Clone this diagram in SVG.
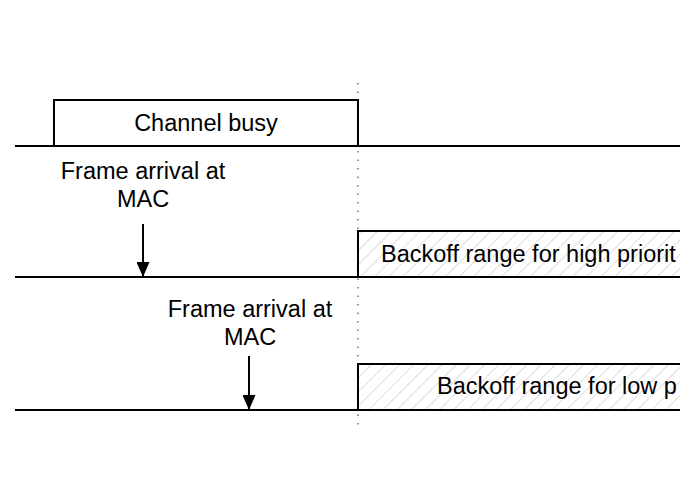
<svg xmlns="http://www.w3.org/2000/svg" width="680" height="500" viewBox="0 0 680 500">
<style>
.t{font-family:"Liberation Sans",Arial,sans-serif;font-size:23.5px;fill:#000}
.ln{stroke:#000;stroke-width:2;fill:none}
.box{stroke:#000;stroke-width:2;fill:#fff}
.hbox{stroke:#000;stroke-width:2;fill:url(#hatch)}
.arr{stroke:#000;stroke-width:2;fill:none;marker-end:url(#ah)}
</style>
<defs>
<pattern id="hatch" patternUnits="userSpaceOnUse" width="10" height="10" patternTransform="rotate(45)">
<rect width="10" height="10" fill="#fff"/>
<line x1="0" y1="0" x2="0" y2="10" stroke="#c8c8c8" stroke-width="1.2"/>
</pattern>
<marker id="ah" markerWidth="15" markerHeight="13" refX="15" refY="6.5" orient="auto" markerUnits="userSpaceOnUse" viewBox="0 0 15 13">
<path d="M0,0 L15,6.5 L0,13 Z" fill="#000"/>
</marker>
</defs>
<rect width="680" height="500" fill="#fff"/>
<g id="connectors">
<line x1="358" y1="83" x2="358" y2="430" stroke="#777" stroke-width="1.5" stroke-dasharray="1.5 7"/>
<line class="ln" x1="15" y1="146" x2="680" y2="146"/>
<line class="ln" x1="15" y1="277" x2="680" y2="277"/>
<line class="ln" x1="15" y1="410" x2="680" y2="410"/>
<line class="arr" x1="143" y1="224" x2="143" y2="277"/>
<line class="arr" x1="249" y1="356" x2="249" y2="410"/>
</g>
<g id="channel-busy">
<rect class="box" x="54" y="100" width="304" height="46"/>
<text class="t" x="206" y="131" text-anchor="middle">Channel busy</text>
</g>
<g id="frame-arrival-high">
<text class="t" x="143" y="179" text-anchor="middle">Frame arrival at</text>
<text class="t" x="143" y="207" text-anchor="middle">MAC</text>
</g>
<g id="frame-arrival-low">
<text class="t" x="250" y="317" text-anchor="middle">Frame arrival at</text>
<text class="t" x="250" y="345" text-anchor="middle">MAC</text>
</g>
<g id="backoff-high">
<rect class="hbox" x="358" y="231" width="340" height="46"/>
<text class="t" x="381" y="262">Backoff range for high priorit</text>
</g>
<g id="backoff-low">
<rect class="hbox" x="358" y="364" width="340" height="46"/>
<text class="t" x="437" y="394">Backoff range for low p</text>
</g>
</svg>
